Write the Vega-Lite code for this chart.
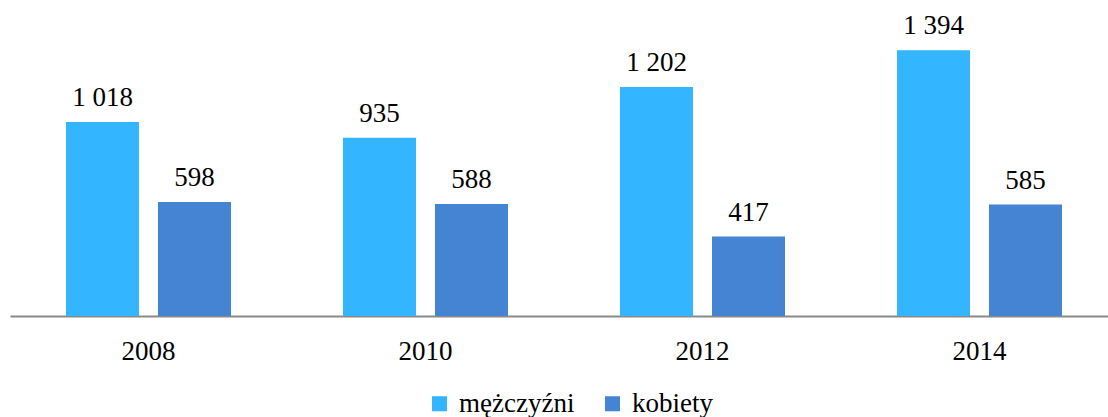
{
  "$schema": "https://vega.github.io/schema/vega-lite/v6.json",
  "autosize": {"type": "none"},
  "padding": {"left": 10, "top": 0, "right": 0, "bottom": 101},
  "width": 1108,
  "height": 316,
  "background": "white",
  "config": {"view": {"stroke": null}},
  "data": {
    "values": [
      {"year": "2008", "sex": "mężczyźni", "value": 1018, "label": "1 018"},
      {"year": "2008", "sex": "kobiety", "value": 598, "label": "598"},
      {"year": "2010", "sex": "mężczyźni", "value": 935, "label": "935"},
      {"year": "2010", "sex": "kobiety", "value": 588, "label": "588"},
      {"year": "2012", "sex": "mężczyźni", "value": 1202, "label": "1 202"},
      {"year": "2012", "sex": "kobiety", "value": 417, "label": "417"},
      {"year": "2014", "sex": "mężczyźni", "value": 1394, "label": "1 394"},
      {"year": "2014", "sex": "kobiety", "value": 585, "label": "585"}
    ]
  },
  "encoding": {
    "x": {
      "field": "year", "type": "nominal",
      "scale": {"paddingInner": 0, "paddingOuter": 0},
      "axis": {
        "title": null, "ticks": false, "grid": false,
        "domainColor": "#898989", "domainWidth": 2,
        "labelFont": "Liberation Serif", "labelFontSize": 27, "labelColor": "#000000",
        "labelBaseline": "alphabetic", "labelPadding": 43, "labelAngle": 0
      }
    },
    "xOffset": {
      "field": "sex", "type": "nominal",
      "sort": ["mężczyźni", "kobiety"],
      "scale": {"paddingInner": 0.2065, "paddingOuter": 0.6087}
    },
    "y": {
      "field": "value", "type": "quantitative",
      "scale": {"domain": [0, 1658], "nice": false},
      "axis": null
    }
  },
  "layer": [
    {
      "mark": {"type": "bar"},
      "encoding": {
        "color": {
          "field": "sex", "type": "nominal",
          "sort": ["mężczyźni", "kobiety"],
          "scale": {"domain": ["mężczyźni", "kobiety"], "range": ["#33b5ff", "#4584d3"]},
          "legend": {
            "title": null, "orient": "none", "direction": "horizontal",
            "legendX": 416, "legendY": 390,
            "symbolType": "square", "symbolSize": 225, "symbolStrokeWidth": 0,
            "labelFont": "Liberation Serif", "labelFontSize": 27, "labelColor": "#000000",
            "labelOffset": 6, "columnPadding": 24, "labelLimit": 300
          }
        }
      }
    },
    {
      "mark": {"type": "text", "font": "Liberation Serif", "fontSize": 27, "color": "#000000", "baseline": "alphabetic", "dy": -16},
      "encoding": {
        "text": {"field": "label"}
      }
    }
  ]
}
